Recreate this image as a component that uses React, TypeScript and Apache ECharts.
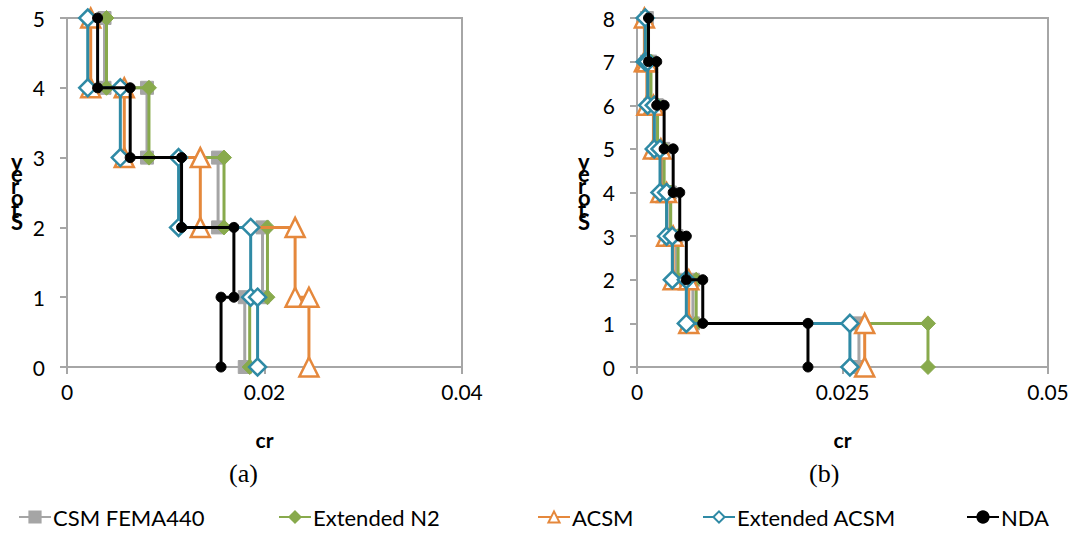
import React, { useEffect, useRef } from "react";
import * as echarts from "echarts";

const seriesNames = ["CSM FEMA440", "Extended N2", "ACSM", "Extended ACSM", "NDA"];
const seriesColors = ["#a5a5a5", "#88aa4c", "#e5883c", "#2f8aa5", "#000000"];
const seriesSymbols = ["rect", "diamond", "triangle", "diamond", "circle"];
const symbolSizes = [13, 15, 19, 17, 10];
const hollow = [false, false, true, true, false];

// Chart (a): storey drift per storey, from top storey (5) to storey 1
const storeysA = 5;
const driftA_CSM = [0.0038, 0.0081, 0.0153, 0.0198, 0.018];
const driftA_N2 = [0.004, 0.0083, 0.0159, 0.0203, 0.0185];
const driftA_ACSM = [0.0024, 0.0058, 0.0135, 0.0231, 0.0245];
const driftA_ExtACSM = [0.0021, 0.0054, 0.0113, 0.0186, 0.0193];
const driftA_NDA = [0.0031, 0.0064, 0.0116, 0.0169, 0.0156];

// Chart (b): from top storey (8) to storey 1
const storeysB = 8;
const driftB_CSM = [0.0012, 0.0016, 0.0024, 0.0032, 0.004, 0.0048, 0.0068, 0.027];
const driftB_N2 = [0.0012, 0.0017, 0.0025, 0.0033, 0.0041, 0.005, 0.0072, 0.0354];
const driftB_ACSM = [0.0009, 0.0012, 0.002, 0.0029, 0.0036, 0.0044, 0.0063, 0.0277];
const driftB_ExtACSM = [0.001, 0.0013, 0.0021, 0.0028, 0.0036, 0.0043, 0.006, 0.0259];
const driftB_NDA = [0.0014, 0.0024, 0.0033, 0.0044, 0.0052, 0.006, 0.008, 0.0208];

const xTicksA = { min: 0, max: 0.04, interval: 0.02 };
const xTicksB = { min: 0, max: 0.05, interval: 0.025 };

const legendLefts = [18, 278, 537, 702, 966];

function stepPoints(vals: number[], top: number): number[][] {
  const pts: number[][] = [];
  vals.forEach((v, i) => {
    const s = top - i;
    pts.push([v, s]);
    pts.push([v, s - 1]);
  });
  return pts;
}

const FONT = "Lato";

export default function App() {
  const ref = useRef<HTMLDivElement>(null);
  useEffect(() => {
    if (!ref.current) return;
    const chart = echarts.init(ref.current, null, { renderer: "svg" });
    const dataA = [driftA_CSM, driftA_N2, driftA_ACSM, driftA_ExtACSM, driftA_NDA];
    const dataB = [driftB_CSM, driftB_N2, driftB_ACSM, driftB_ExtACSM, driftB_NDA];

    const mkSeries = (vals: number[], top: number, i: number, idx: number) => ({
      name: seriesNames[i],
      type: "line",
      xAxisIndex: idx,
      yAxisIndex: idx,
      data: stepPoints(vals, top),
      symbol: seriesSymbols[i],
      symbolSize: symbolSizes[i],
      showAllSymbol: true,
      clip: false,
      z: 2 + i,
      color: seriesColors[i],
      lineStyle: { color: seriesColors[i], width: 3 },
      itemStyle: hollow[i]
        ? { color: "#ffffff", borderColor: seriesColors[i], borderWidth: 2.5 }
        : { color: seriesColors[i], borderColor: seriesColors[i], borderWidth: 1 },
    });

    const axisLine = { show: true, lineStyle: { color: "#a6a6a6", width: 2 } };
    const axisTick = { show: true, inside: false, length: 7, lineStyle: { color: "#a6a6a6", width: 2 } };
    const axisLabel = { color: "#000", fontFamily: FONT, fontSize: 21 };
    const nameStyle = { color: "#000", fontFamily: FONT, fontSize: 21, fontWeight: "bold" };

    const option: any = {
      animation: false,
      grid: [
        { left: 67, top: 18, width: 395, height: 349, show: true, borderColor: "#a6a6a6", borderWidth: 2 },
        { left: 637, top: 18, width: 411, height: 349, show: true, borderColor: "#a6a6a6", borderWidth: 2 },
      ],
      xAxis: [
        {
          gridIndex: 0, type: "value", ...xTicksA, axisLine, axisTick,
          axisLabel: { ...axisLabel, margin: 14 }, splitLine: { show: false },
          name: "cr", nameLocation: "middle", nameGap: 62, nameTextStyle: nameStyle,
        },
        {
          gridIndex: 1, type: "value", ...xTicksB, axisLine, axisTick,
          axisLabel: { ...axisLabel, margin: 14 }, splitLine: { show: false },
          name: "cr", nameLocation: "middle", nameGap: 62, nameTextStyle: nameStyle,
        },
      ],
      yAxis: [
        {
          gridIndex: 0, type: "value", min: 0, max: storeysA, interval: 1, axisLine, axisTick,
          axisLabel: { ...axisLabel, margin: 22 }, splitLine: { show: false },
        },
        {
          gridIndex: 1, type: "value", min: 0, max: storeysB, interval: 1, axisLine, axisTick,
          axisLabel: { ...axisLabel, margin: 22 }, splitLine: { show: false },
        },
      ],
      legend: seriesNames.map((n, i) => ({
        data: [n],
        left: legendLefts[i],
        top: 506,
        itemWidth: 32,
        itemHeight: 14,
        padding: 0,
        textStyle: { color: "#000", fontFamily: FONT, fontSize: 22, padding: [0, 0, 0, -3] },
      })),
      graphic: [
        {
          type: "text", left: 11, top: 150,
          style: { text: "y\ne\nr\no\nt\nS", font: "bold 22px Lato", lineHeight: 12, fill: "#000", align: "center" },
        },
        {
          type: "text", left: 578, top: 150,
          style: { text: "y\ne\nr\no\nt\nS", font: "bold 22px Lato", lineHeight: 12, fill: "#000", align: "center" },
        },
        {
          type: "text", left: 229, top: 460,
          style: { text: "(a)", font: "26px 'Liberation Serif'", fill: "#000" },
        },
        {
          type: "text", left: 809, top: 460,
          style: { text: "(b)", font: "26px 'Liberation Serif'", fill: "#000" },
        },
      ],
      series: [
        ...dataA.map((v, i) => mkSeries(v, storeysA, i, 0)),
        ...dataB.map((v, i) => mkSeries(v, storeysB, i, 1)),
      ],
    };
    chart.setOption(option);
    return () => chart.dispose();
  }, []);
  return (
    <div
      ref={ref}
      style={{ position: "absolute", left: 0, top: 0, width: 1075, height: 535, background: "#fff" }}
    />
  );
}
